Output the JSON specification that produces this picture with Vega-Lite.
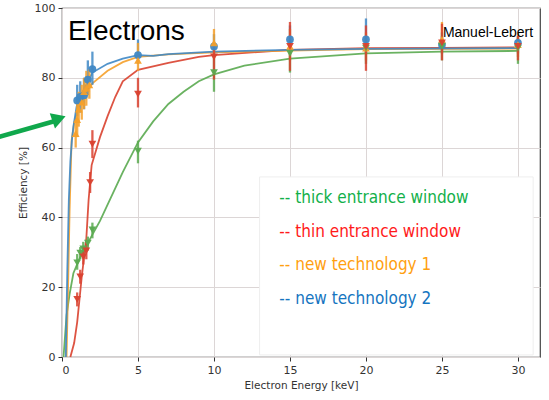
{
  "$schema": "https://vega.github.io/schema/vega-lite/v6.json",
  "width": 478,
  "height": 349,
  "autosize": {"type": "none"},
  "padding": {"left": 62, "top": 8, "right": 9, "bottom": 43},
  "background": "white",
  "config": {
    "view": {"stroke": "#444", "strokeWidth": 1.2},
    "axis": {
      "labelFont": "DejaVu Sans", "labelFontSize": 11, "labelColor": "#333",
      "titleFont": "DejaVu Sans", "titleFontSize": 10.5, "titleColor": "#333", "titleFontWeight": "normal",
      "tickColor": "#333", "tickSize": 4, "domain": false,
      "gridColor": "#dcd6d6", "gridWidth": 1
    }
  },
  "datasets": {
    "curves": [
      {"s": "thick", "x": 0.1, "y": 0}, {"s": "thick", "x": 0.3, "y": 12}, {"s": "thick", "x": 0.5, "y": 18}, {"s": "thick", "x": 0.75, "y": 24}, {"s": "thick", "x": 1.2, "y": 28.7}, {"s": "thick", "x": 1.8, "y": 33.5}, {"s": "thick", "x": 2.5, "y": 39}, {"s": "thick", "x": 3.2, "y": 45.5}, {"s": "thick", "x": 4, "y": 53}, {"s": "thick", "x": 5, "y": 61.5}, {"s": "thick", "x": 6, "y": 67.5}, {"s": "thick", "x": 7, "y": 72.5}, {"s": "thick", "x": 8, "y": 76}, {"s": "thick", "x": 9, "y": 79}, {"s": "thick", "x": 10, "y": 81}, {"s": "thick", "x": 12, "y": 83.5}, {"s": "thick", "x": 15, "y": 85.5}, {"s": "thick", "x": 20, "y": 87}, {"s": "thick", "x": 25, "y": 87.5}, {"s": "thick", "x": 30, "y": 87.7},
      {"s": "thin", "x": 0.55, "y": 0}, {"s": "thin", "x": 0.8, "y": 4}, {"s": "thin", "x": 1.0, "y": 10}, {"s": "thin", "x": 1.3, "y": 23}, {"s": "thin", "x": 1.6, "y": 34}, {"s": "thin", "x": 1.75, "y": 45}, {"s": "thin", "x": 1.95, "y": 55}, {"s": "thin", "x": 2.5, "y": 63}, {"s": "thin", "x": 3, "y": 69}, {"s": "thin", "x": 3.5, "y": 74.5}, {"s": "thin", "x": 4, "y": 79}, {"s": "thin", "x": 5, "y": 82.3}, {"s": "thin", "x": 7, "y": 84.3}, {"s": "thin", "x": 9, "y": 86}, {"s": "thin", "x": 10, "y": 86.5}, {"s": "thin", "x": 15, "y": 88}, {"s": "thin", "x": 20, "y": 88.5}, {"s": "thin", "x": 25, "y": 88.6}, {"s": "thin", "x": 30, "y": 88.7},
      {"s": "new1", "x": 0.3, "y": 0}, {"s": "new1", "x": 0.4, "y": 20}, {"s": "new1", "x": 0.5, "y": 42}, {"s": "new1", "x": 0.63, "y": 62}, {"s": "new1", "x": 0.8, "y": 67}, {"s": "new1", "x": 1.0, "y": 70.5}, {"s": "new1", "x": 1.4, "y": 74.6}, {"s": "new1", "x": 2, "y": 78.4}, {"s": "new1", "x": 3, "y": 82}, {"s": "new1", "x": 4, "y": 84.5}, {"s": "new1", "x": 5, "y": 86}, {"s": "new1", "x": 7, "y": 86.7}, {"s": "new1", "x": 10, "y": 87.3}, {"s": "new1", "x": 15, "y": 87.8}, {"s": "new1", "x": 20, "y": 88.2}, {"s": "new1", "x": 25, "y": 88.3}, {"s": "new1", "x": 30, "y": 88.4},
      {"s": "new2", "x": 0.25, "y": 0}, {"s": "new2", "x": 0.35, "y": 25}, {"s": "new2", "x": 0.45, "y": 45}, {"s": "new2", "x": 0.55, "y": 56}, {"s": "new2", "x": 0.65, "y": 62}, {"s": "new2", "x": 0.75, "y": 66}, {"s": "new2", "x": 0.96, "y": 71.7}, {"s": "new2", "x": 1.3, "y": 75.5}, {"s": "new2", "x": 2, "y": 81.5}, {"s": "new2", "x": 3, "y": 84}, {"s": "new2", "x": 4, "y": 85.5}, {"s": "new2", "x": 5, "y": 86.5}, {"s": "new2", "x": 6, "y": 86.3}, {"s": "new2", "x": 7, "y": 86.8}, {"s": "new2", "x": 10, "y": 87.5}, {"s": "new2", "x": 15, "y": 88}, {"s": "new2", "x": 20, "y": 88.3}, {"s": "new2", "x": 30, "y": 88.5}
    ],
    "points": [
      {"s": "new2", "x": 1.0, "y": 73.5, "lo": 69, "hi": 78}, {"s": "new2", "x": 1.2, "y": 74.5, "lo": 70, "hi": 79}, {"s": "new2", "x": 1.45, "y": 75, "lo": 71, "hi": 80}, {"s": "new2", "x": 1.7, "y": 79.5, "lo": 75, "hi": 85}, {"s": "new2", "x": 2.0, "y": 82.5, "lo": 78, "hi": 87.5}, {"s": "new2", "x": 5, "y": 86.5, "lo": 84, "hi": 91}, {"s": "new2", "x": 10, "y": 89, "lo": 86, "hi": 92.5}, {"s": "new2", "x": 15, "y": 91, "lo": 87, "hi": 95}, {"s": "new2", "x": 20, "y": 91, "lo": 87, "hi": 97}, {"s": "new2", "x": 25, "y": 89.5, "lo": 87, "hi": 92}, {"s": "new2", "x": 30, "y": 90, "lo": 87, "hi": 92},
      {"s": "new1", "x": 0.9, "y": 64, "lo": 60, "hi": 68}, {"s": "new1", "x": 1.0, "y": 68, "lo": 63, "hi": 73}, {"s": "new1", "x": 1.1, "y": 71, "lo": 66, "hi": 76}, {"s": "new1", "x": 1.3, "y": 73, "lo": 68, "hi": 78}, {"s": "new1", "x": 1.45, "y": 76, "lo": 71, "hi": 80}, {"s": "new1", "x": 1.6, "y": 77, "lo": 72, "hi": 82}, {"s": "new1", "x": 1.8, "y": 78, "lo": 74, "hi": 82.5}, {"s": "new1", "x": 5, "y": 85, "lo": 82, "hi": 90}, {"s": "new1", "x": 10, "y": 90, "lo": 86, "hi": 94}, {"s": "new1", "x": 15, "y": 89, "lo": 85, "hi": 94}, {"s": "new1", "x": 20, "y": 88.5, "lo": 85, "hi": 93}, {"s": "new1", "x": 25, "y": 91, "lo": 87, "hi": 96}, {"s": "new1", "x": 30, "y": 89.5, "lo": 86, "hi": 93},
      {"s": "thick", "x": 1.0, "y": 27, "lo": 25, "hi": 29.5}, {"s": "thick", "x": 1.2, "y": 29.8, "lo": 28, "hi": 31.5}, {"s": "thick", "x": 1.4, "y": 31, "lo": 29, "hi": 33}, {"s": "thick", "x": 1.7, "y": 32.6, "lo": 30.5, "hi": 34.5}, {"s": "thick", "x": 2.0, "y": 36.4, "lo": 34, "hi": 38.5}, {"s": "thick", "x": 5, "y": 59, "lo": 55.5, "hi": 62}, {"s": "thick", "x": 10, "y": 81.5, "lo": 76, "hi": 86}, {"s": "thick", "x": 15, "y": 87, "lo": 81.5, "hi": 91}, {"s": "thick", "x": 20, "y": 88.5, "lo": 84, "hi": 92}, {"s": "thick", "x": 25, "y": 89, "lo": 85, "hi": 93}, {"s": "thick", "x": 30, "y": 88.5, "lo": 84, "hi": 91.5},
      {"s": "thin", "x": 1.0, "y": 16.5, "lo": 14.5, "hi": 18.5}, {"s": "thin", "x": 1.2, "y": 23, "lo": 21, "hi": 25}, {"s": "thin", "x": 1.4, "y": 28.7, "lo": 26.5, "hi": 31}, {"s": "thin", "x": 1.6, "y": 30.4, "lo": 28, "hi": 32.5}, {"s": "thin", "x": 1.85, "y": 50, "lo": 47, "hi": 53}, {"s": "thin", "x": 2.0, "y": 61, "lo": 57, "hi": 65}, {"s": "thin", "x": 5, "y": 75.3, "lo": 71.5, "hi": 80}, {"s": "thin", "x": 10, "y": 86, "lo": 79.5, "hi": 90}, {"s": "thin", "x": 15, "y": 89, "lo": 82, "hi": 96}, {"s": "thin", "x": 20, "y": 89, "lo": 82, "hi": 95}, {"s": "thin", "x": 25, "y": 90, "lo": 85, "hi": 95.5}, {"s": "thin", "x": 30, "y": 89, "lo": 85, "hi": 92}
    ],
    "legendbox": [{"x": 13.0, "x2": 31.0, "y": 51.6, "y2": 0.6}],
    "legendtext": [
      {"s": "thick", "label": "-- thick entrance window", "x": 14.3, "y": 45.6},
      {"s": "thin", "label": "-- thin entrance window", "x": 14.3, "y": 35.8},
      {"s": "new1", "label": "-- new technology 1", "x": 14.3, "y": 26.4},
      {"s": "new2", "label": "-- new technology 2", "x": 14.3, "y": 16.6}
    ],
    "arrow": [{"x": -4.2, "y": 63, "x2": -0.4, "y2": 67.7}],
    "arrowhead": [{"x": -0.2, "y": 68.3}]
  },
  "layer": [
    {
      "data": {"name": "legendbox"},
      "mark": {"type": "rect", "fill": "white", "stroke": "#eeeeee", "strokeWidth": 1},
      "encoding": {
        "x": {"field": "x", "type": "quantitative", "scale": {"domain": [0, 31.45], "nice": false, "zero": false},
              "axis": {"values": [0, 5, 10, 15, 20, 25, 30], "title": "Electron Energy [keV]", "labelPadding": 3, "titlePadding": 5}},
        "x2": {"field": "x2"},
        "y": {"field": "y", "type": "quantitative", "scale": {"domain": [0, 100], "nice": false},
              "axis": {"values": [0, 20, 40, 60, 80, 100], "title": "Efficiency [%]", "labelPadding": 3, "titlePadding": 6}},
        "y2": {"field": "y2"}
      }
    },
    {
      "data": {"name": "curves"},
      "mark": {"type": "line", "strokeWidth": 1.8, "opacity": 0.9},
      "encoding": {
        "x": {"field": "x", "type": "quantitative"},
        "y": {"field": "y", "type": "quantitative"},
        "order": {"field": "x", "type": "quantitative"},
        "color": {"field": "s", "type": "nominal", "legend": null,
                  "scale": {"domain": ["thick", "thin", "new1", "new2"], "range": ["#5aaa50", "#d9412f", "#f5a02a", "#3f88c5"]}}
      }
    },
    {
      "data": {"name": "points"},
      "mark": {"type": "rule", "strokeWidth": 2.3, "opacity": 0.85},
      "encoding": {
        "x": {"field": "x", "type": "quantitative"},
        "y": {"field": "lo", "type": "quantitative"},
        "y2": {"field": "hi"},
        "color": {"field": "s", "type": "nominal", "legend": null,
                  "scale": {"domain": ["thick", "thin", "new1", "new2"], "range": ["#5aaa50", "#d9412f", "#f5a02a", "#3f88c5"]}}
      }
    },
    {
      "data": {"name": "points"},
      "mark": {"type": "point", "filled": true, "size": 60, "opacity": 0.95},
      "encoding": {
        "x": {"field": "x", "type": "quantitative"},
        "y": {"field": "y", "type": "quantitative"},
        "color": {"field": "s", "type": "nominal", "legend": null,
                  "scale": {"domain": ["thick", "thin", "new1", "new2"], "range": ["#5aaa50", "#d9412f", "#f5a02a", "#3f88c5"]}},
        "shape": {"field": "s", "type": "nominal", "legend": null,
                  "scale": {"domain": ["thick", "thin", "new1", "new2"], "range": ["triangle-down", "triangle-down", "triangle-up", "circle"]}}
      }
    },
    {
      "data": {"name": "legendtext"},
      "mark": {"type": "text", "align": "left", "baseline": "middle", "font": "DejaVu Sans Condensed", "fontSize": 17},
      "encoding": {
        "x": {"field": "x", "type": "quantitative"},
        "y": {"field": "y", "type": "quantitative"},
        "text": {"field": "label"},
        "color": {"field": "s", "type": "nominal", "legend": null,
                  "scale": {"domain": ["thick", "thin", "new1", "new2"], "range": ["#12b04a", "#ff1a1a", "#ffa010", "#1575c0"]}}
      }
    },
    {
      "data": {"values": [{"label": "Electrons", "x": 0.4, "y": 90.8}]},
      "mark": {"type": "text", "align": "left", "baseline": "alphabetic", "font": "Liberation Sans", "fontSize": 28, "color": "black"},
      "encoding": {
        "x": {"field": "x", "type": "quantitative"},
        "y": {"field": "y", "type": "quantitative"},
        "text": {"field": "label"}
      }
    },
    {
      "data": {"values": [{"label": "Manuel-Lebert", "x": 31.0, "y": 92.8}]},
      "mark": {"type": "text", "align": "right", "baseline": "middle", "font": "Liberation Sans", "fontSize": 14, "color": "black"},
      "encoding": {
        "x": {"field": "x", "type": "quantitative"},
        "y": {"field": "y", "type": "quantitative"},
        "text": {"field": "label"}
      }
    },
    {
      "data": {"name": "arrow"},
      "mark": {"type": "rule", "strokeWidth": 4.5, "color": "#10a84c"},
      "encoding": {
        "x": {"field": "x", "type": "quantitative"},
        "y": {"field": "y", "type": "quantitative"},
        "x2": {"field": "x2"},
        "y2": {"field": "y2"}
      }
    },
    {
      "data": {"name": "arrowhead"},
      "mark": {"type": "point", "shape": "triangle-right", "filled": true, "size": 260, "angle": -19, "color": "#10a84c", "opacity": 1},
      "encoding": {
        "x": {"field": "x", "type": "quantitative"},
        "y": {"field": "y", "type": "quantitative"}
      }
    }
  ],
  "resolve": {"scale": {"color": "independent"}}
}
